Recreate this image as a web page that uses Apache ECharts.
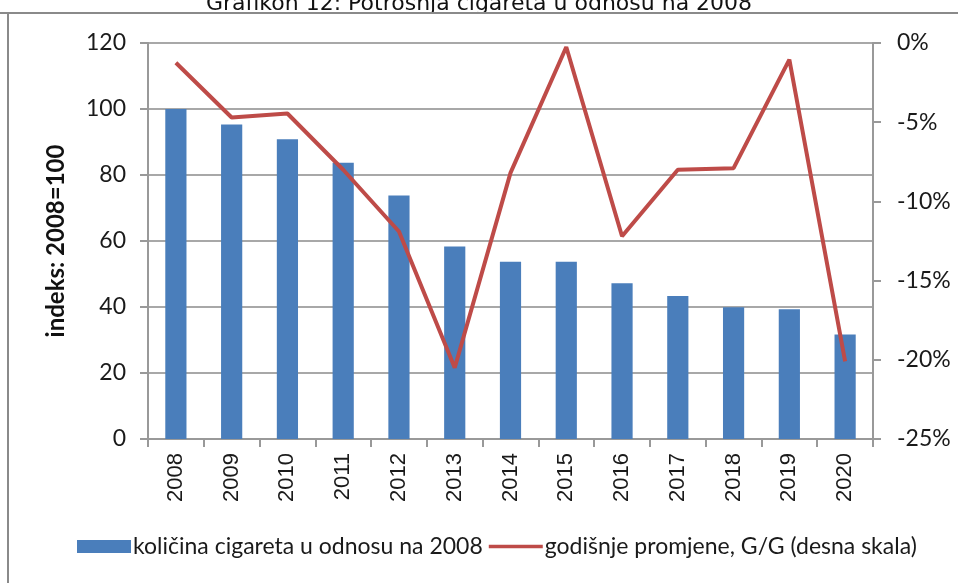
<!DOCTYPE html>
<html>
<head>
<meta charset="utf-8">
<script src="https://cdn.jsdelivr.net/npm/echarts@6/dist/echarts.min.js"></script>
<style>html,body{margin:0;padding:0;background:#fff}#c{width:958px;height:583px}</style>
</head>
<body>
<div id="c"></div>
<script>
const categories = ['2008','2009','2010','2011','2012','2013','2014','2015','2016','2017','2018','2019','2020'];
const quantityIndex = [100, 95.3, 90.8, 83.7, 73.8, 58.3, 53.7, 53.7, 47.2, 43.3, 39.9, 39.3, 31.7];
const yearlyChange = [-1.25, -4.7, -4.45, -8.0, -11.9, -20.5, -8.2, -0.25, -12.2, -8.0, -7.9, -1.05, -20.1];
const leftTicks = { min: 0, max: 120, interval: 20 };
const rightTicks = { min: -25, max: 0, interval: 5 };
const titleText = 'Grafikon 12: Potrošnja cigareta u odnosu na 2008';
const seriesNames = ['količina cigareta u odnosu na 2008', 'godišnje promjene, G/G (desna skala)'];

const chart = echarts.init(document.getElementById('c'), null, { renderer: 'canvas' });
const labelFont = 'Lato, "Open Sans", sans-serif';
chart.setOption({
  animation: false,
  backgroundColor: '#ffffff',
  graphic: [
    { type: 'text', left: 'center', top: -7, style: { text: titleText, font: '22px "DejaVu Sans"', fill: '#111' } },
    { type: 'rect', shape: { x: 0, y: 12, width: 958, height: 2 }, style: { fill: '#8a8a8a' } },
    { type: 'rect', shape: { x: 7, y: 12, width: 2, height: 571 }, style: { fill: '#8a8a8a' } }
  ],
  grid: { left: 148, right: 85, top: 43, bottom: 144, containLabel: false },
  legend: {
    bottom: 20, left: 72,
    itemGap: 6,
    itemWidth: 54, itemHeight: 13,
    textStyle: { fontFamily: labelFont, fontSize: 23, color: '#1a1a1a', padding: [0, 0, 0, -3] },
    data: [
      { name: seriesNames[0], icon: 'rect' },
      { name: seriesNames[1], icon: 'path://M0,0H60V4H0Z', lineStyle: { width: 4 } }
    ]
  },
  xAxis: {
    type: 'category', data: categories,
    axisLine: { lineStyle: { color: '#999', width: 2 } },
    axisTick: { show: true, length: 8, lineStyle: { color: '#999', width: 2 } },
    axisLabel: { rotate: 90, fontFamily: '"Liberation Sans", Arial, sans-serif', fontSize: 22, color: '#1a1a1a', margin: 14 }
  },
  yAxis: [
    {
      type: 'value', min: leftTicks.min, max: leftTicks.max, interval: leftTicks.interval,
      name: 'indeks: 2008=100', nameLocation: 'middle', nameGap: 80, nameRotate: 90,
      nameTextStyle: { fontFamily: labelFont, fontWeight: 'bold', fontSize: 24, color: '#111' },
      axisLine: { show: true, lineStyle: { color: '#999', width: 2 } },
      axisTick: { show: true, length: 8, lineStyle: { color: '#999', width: 2 } },
      axisLabel: { fontFamily: labelFont, fontSize: 23, color: '#1a1a1a', margin: 22 },
      splitLine: { lineStyle: { color: '#a8a8a8', width: 2 } }
    },
    {
      type: 'value', min: rightTicks.min, max: rightTicks.max, interval: rightTicks.interval,
      position: 'right',
      axisLine: { show: true, lineStyle: { color: '#999', width: 2 } },
      axisTick: { show: true, length: 8, lineStyle: { color: '#999', width: 2 } },
      axisLabel: { fontFamily: labelFont, fontSize: 23, color: '#1a1a1a', margin: 24, formatter: '{value}%' },
      splitLine: { show: false }
    }
  ],
  series: [
    {
      name: seriesNames[0], type: 'bar', data: quantityIndex, yAxisIndex: 0,
      barWidth: '38%', itemStyle: { color: '#4a7ebb' }
    },
    {
      name: seriesNames[1], type: 'line', data: yearlyChange, yAxisIndex: 1,
      symbol: 'none', lineStyle: { color: '#be4b48', width: 4 }, itemStyle: { color: '#be4b48' }
    }
  ]
});
</script>
</body>
</html>
